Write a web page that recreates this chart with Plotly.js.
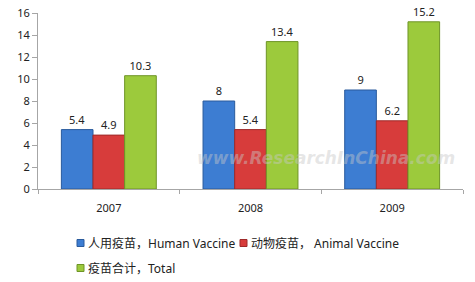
<!DOCTYPE html>
<html>
<head>
<meta charset="utf-8">
<script src="https://cdn.plot.ly/plotly-3.0.1.min.js"></script>
<style>html,body{margin:0;padding:0;background:#fff;}#chart{width:475px;height:282px;}</style>
</head>
<body>
<div id="chart"></div>
<script>
var years = ['2007', '2008', '2009'];
var humanVaccine = [5.4, 8, 9];
var animalVaccine = [4.9, 5.4, 6.2];
var totalVaccine = [10.3, 13.4, 15.2];
var seriesNames = ['人用疫苗，Human Vaccine', '动物疫苗， Animal Vaccine', '疫苗合计，Total'];
var yTicks = [0, 2, 4, 6, 8, 10, 12, 14, 16];

var font = 'Noto Sans, Noto Sans CJK SC, sans-serif';
var fills = ['#3d7dd2', '#d73c3b', '#9cca3c'];
var lines = ['#2a5b9c', '#9e2a2a', '#6e9427'];

function mk(vals, i) {
  return {
    type: 'bar', x: years, y: vals, name: seriesNames[i], showlegend: false,
    marker: {color: fills[i], line: {color: lines[i], width: 1}},
    text: vals.map(String), textposition: 'outside', cliponaxis: false,
    textfont: {family: font, size: 11, color: '#222'}
  };
}
var data = [mk(humanVaccine, 0), mk(animalVaccine, 1), mk(totalVaccine, 2)];

// custom legend (pixel positions converted to paper coords)
var L = 38, W = 425, B = 189, H = 176;
function px(x) { return (x - L) / W; }
function py(y) { return (B - y) / H; }
var legendPos = [[77, 243], [240, 243], [77, 268]];
var shapes = [], annotations = [];
legendPos.forEach(function (p, i) {
  shapes.push({type: 'rect', xref: 'paper', yref: 'paper',
    x0: px(p[0]), x1: px(p[0] + 7), y0: py(p[1] - 3.5), y1: py(p[1] + 3.5),
    fillcolor: fills[i], line: {color: lines[i], width: 1}});
  annotations.push({text: seriesNames[i], xref: 'paper', yref: 'paper',
    x: px(p[0] + 9), y: py(p[1]), xanchor: 'left', yanchor: 'middle', showarrow: false,
    font: {family: font, size: 12, color: '#222'}});
});
annotations.push({
  text: '<b><i>www.ResearchInChina.com</i></b>', xref: 'paper', yref: 'paper',
  x: px(326), y: py(158), xanchor: 'center', yanchor: 'middle', showarrow: false,
  font: {family: 'DejaVu Sans, sans-serif', size: 17, color: 'rgba(200,200,200,0.45)'}
});

var layout = {
  width: 475, height: 282,
  margin: {l: 38, r: 12, t: 13, b: 93},
  paper_bgcolor: '#fff', plot_bgcolor: '#fff',
  barmode: 'group', bargap: 0.33, bargroupgap: 0,
  font: {family: font, size: 11, color: '#333'},
  showlegend: false,
  xaxis: {type: 'category', showline: true, linecolor: '#a6a6a6', linewidth: 1,
          ticks: 'outside', tickson: 'boundaries', ticklen: 4, tickcolor: '#a6a6a6',
          showgrid: false, zeroline: false, ticklabelstandoff: 9,
          tickfont: {family: font, size: 11, color: '#222'}},
  yaxis: {range: [0, 16], tickvals: yTicks, showline: true, linecolor: '#a6a6a6', linewidth: 1,
          ticks: 'outside', ticklen: 5, tickcolor: '#a6a6a6', showgrid: false, zeroline: false,
          tickfont: {family: font, size: 11, color: '#222'}},
  shapes: shapes,
  annotations: annotations
};
Plotly.newPlot('chart', data, layout, {displayModeBar: false, staticPlot: true});
</script>
</body>
</html>
